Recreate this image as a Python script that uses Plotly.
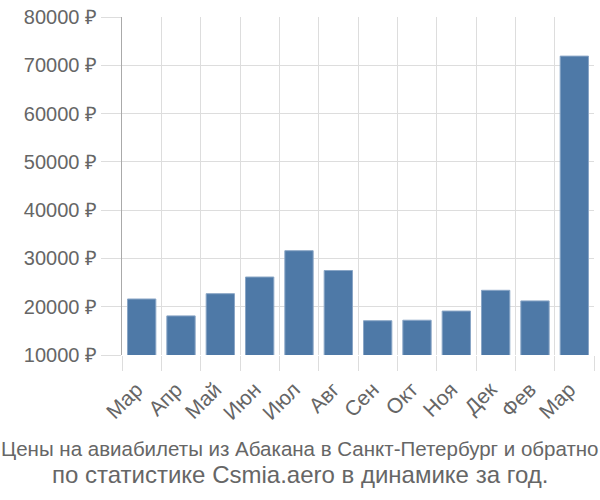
import plotly.graph_objects as go

months = ["Мар", "Апр", "Май", "Июн", "Июл", "Авг", "Сен", "Окт", "Ноя", "Дек", "Фев", "Мар"]
prices = [21600, 18100, 22700, 26150, 31600, 27500, 17100, 17200, 19100, 23400, 21200, 71900]
y_ticks = [10000, 20000, 30000, 40000, 50000, 60000, 70000, 80000]
title_lines = ["Цены на авиабилеты из Абакана в Санкт-Петербург и обратно",
               "по статистике Csmia.aero в динамике за год."]

FONT = "Liberation Sans, Arial, sans-serif"
xs = list(range(len(months)))

fig = go.Figure(go.Bar(
    x=xs, y=prices,
    marker=dict(color="#4e79a7", line=dict(color="#8aa6c6", width=1)),
    width=0.72,
))

W, H = 600, 500
L, R, T, B = 122, 6, 14, 145
fig.update_layout(
    width=W, height=H,
    margin=dict(l=L, r=R, t=T, b=B),
    plot_bgcolor="white", paper_bgcolor="white",
    showlegend=False,
    font=dict(family=FONT, color="#666666"),
)

fig.update_xaxes(
    range=[-0.5, len(months) - 0.5],
    tickmode="array", tickvals=xs, ticktext=months,
    tickangle=-45, ticks="outside", ticklen=13, tickcolor="rgba(0,0,0,0)",
    ticklabelshift=-5,
    showgrid=False, zeroline=False,
    tickfont=dict(size=21, color="#666666", family=FONT),
    minor=dict(tickmode="linear", tick0=-0.5, dtick=1, showgrid=True,
               gridcolor="#dddddd", gridwidth=1, ticks="outside", ticklen=15,
               tickcolor="#dddddd", tickwidth=1),
)
fig.update_yaxes(
    range=[y_ticks[0], y_ticks[-1]],
    tickmode="array", tickvals=y_ticks,
    ticktext=[f"{v} ₽" for v in y_ticks],
    showgrid=True, gridcolor="#dddddd", gridwidth=1,
    ticks="outside", ticklen=20, tickcolor="#dddddd",
    showline=True, linecolor="#aaaaaa", linewidth=1,
    zeroline=False,
    tickfont=dict(size=20, color="#666666", family=FONT),
)

ph = H - T - B
pw = W - L - R
for text, ypx, size in zip(title_lines, [449, 476], [20.5, 24]):
    fig.add_annotation(text=text, xref="paper", yref="paper",
                       x=(300 - L) / pw, y=(H - B - ypx) / ph,
                       xanchor="center", yanchor="middle", showarrow=False,
                       font=dict(size=size, color="#666666", family=FONT))

fig.write_html("out.html")
